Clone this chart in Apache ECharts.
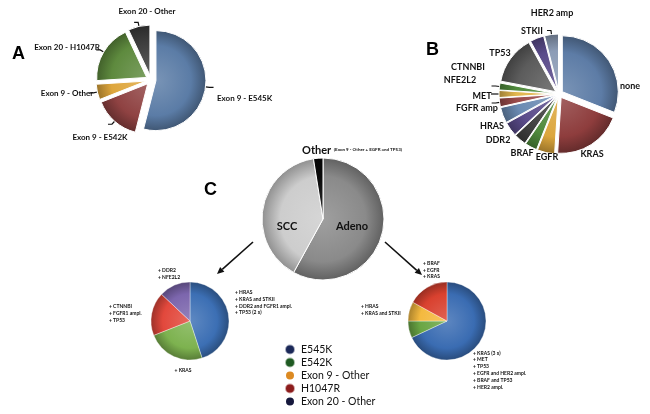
<!DOCTYPE html>
<html><head><meta charset="utf-8">
<script src="https://cdn.jsdelivr.net/npm/echarts@6/dist/echarts.min.js"></script>
<style>html,body{margin:0;padding:0;background:#fff}#c{width:650px;height:414px}</style>
</head><body><div id="c"></div>
<script>
// ---------- DATA ----------
const pieANames = ['Exon 9 - E545K','Exon 9 - E542K','Exon 9 - Other','Exon 20 - H1047R','Exon 20 - Other'];
const pieAValues = [54, 15, 5, 19, 7];
const pieBNames = ['none','KRAS','EGFR','BRAF','DDR2','HRAS','FGFR amp','MET','NFE2L2','CTNNBI','TP53','STKII','HER2 amp'];
const pieBValues = [31, 20, 5, 3.5, 3.5, 4, 4.5, 2.5, 2, 2, 14, 4, 4];
const pieCNames = ['Adeno','SCC','Other'];
const pieCValues = [58, 39.5, 2.5];
const otherNote = '(Exon 9 - Other + EGFR and TP53)';
const sccNames = ['E545K','E542K','H1047R','Exon 20 - Other'];
const sccValues = [45, 24, 18, 13];
const sccNotes = [['+ HRAS','+ KRAS and STKII','+ DDR2 and FGFR1 ampl.','+ TP53 (2 x)'],['+ KRAS'],['+ CTNNBI','+ FGFR1 ampl.','+ TP53'],['+ DDR2','+ NFE2L2']];
const adenoNames = ['E545K','E542K','Exon 9 - Other','H1047R'];
const adenoValues = [68, 7, 8, 17];
const adenoNotes = [['+ KRAS (3 x)','+ MET','+ TP53','+ EGFR and HER2 ampl.','+ BRAF and TP53','+ HER2 ampl.'],[],['+ HRAS','+ KRAS and STKII'],['+ BRAF','+ EGFR','+ KRAS']];
const legendNames = ['E545K','E542K','Exon 9 - Other','H1047R','Exon 20 - Other'];

// ---------- STYLE / LAYOUT ----------
const colorsA = ['#5b7ca6','#8f4242','#dea63c','#5e8a3e','#3c3c3c'];
const colorsB = ['#5d7ca6','#8e3d3d','#dca63c','#4f8a3c','#404040','#5a4b8a','#6a8ab2','#9a4a4a','#e2b64e','#4f8a3c','#5c5c5c','#5a4b8a','#8c9cb6'];
const colorsC = ['#8a8a8a','#cdcdcd','#080808'];
const colorsScc = ['#3c6fb4','#7db24f','#e2483c','#7c66ad'];
const colorsAdeno = ['#3a6cb2','#6aa644','#f4b93f','#d9412f'];
const legendColors = ['#1b2858','#1f5a22','#dc8a22','#8c1c1c','#16183c'];

const A = {c:[151,80], r:50, off:5};
const B = {c:[559,94], r:56, off:4};
const C = {c:[323,219], r:61, off:0};
const L = {c:[190,321], r:39, off:0};
const R = {c:[447,321], r:39, off:0};

// label anchor: [x, y(centre), 'left' | 'center']
const posA = [[217,98,'left'],[100,137,'center'],[67,93,'center'],[67,47,'center'],[147,11,'center']];
const posB = [[630,86,'center'],[592,154,'center'],[547,157,'center'],[522,153,'center'],[498,140,'center'],[492,126,'center'],[477,108,'center'],[482,96,'center'],[460,80,'center'],[468,67,'center'],[500,53,'center'],[532,31,'center'],[552,13,'center']];
const lineB = [false,false,false,false,false,false,false,true,true,true,false,false,true];
const posC = [[352,226,'center'],[287,226,'center'],[302,150,'left']];
const posL = [[235,302.5,'left'],[183,370,'center'],[109,313.5,'left'],[158,274,'left']];
const posR = [[473,370,'left'],[0,0,'left'],[361,309.5,'left'],[423,270,'left']];

function mix(hex, to, t){
  const a=parseInt(hex.slice(1),16), b=parseInt(to.slice(1),16);
  const ch=(v,s)=>(v>>s)&255;
  const m=s=>Math.round(ch(a,s)*(1-t)+ch(b,s)*t);
  return 'rgb('+m(16)+','+m(8)+','+m(0)+')';
}
function shade(hex, P, k){
  return {type:'radial', x:P.c[0], y:P.c[1], r:P.r, global:true,
    colorStops:[{offset:0,color:mix(hex,'#ffffff',0.18)},{offset:0.7,color:hex},{offset:1,color:mix(hex,'#000000',k||0.3)}]};
}
const FONT = 'Lato';
// move each label to its anchor; compensate the selected (exploded) offset that moves with the slice
function layoutFrom(pos, values, P){
  const total = values.reduce((s,v)=>s+v,0);
  let cum = 0;
  const offs = values.map(v=>{ const mid=(cum+v/2)/total*2*Math.PI; cum+=v; return [P.off*Math.sin(mid), -P.off*Math.cos(mid)]; });
  return function(p){
    const q = pos[p.dataIndex], r = p.labelRect, o = offs[p.dataIndex];
    const left = q[2]==='center' ? q[0]-r.width/2 : q[0];
    return {dx: left - r.x - o[0], dy: q[1] - (r.y + r.height/2) - o[1]};
  };
}
function arrow(x1,y1,x2,y2){
  const dx=x2-x1, dy=y2-y1, len=Math.hypot(dx,dy), ux=dx/len, uy=dy/len;
  const hl=7, hw=3.2, bx=x2-ux*hl, by=y2-uy*hl;
  return [
    {type:'line', shape:{x1:x1,y1:y1,x2:bx,y2:by}, style:{stroke:'#111', lineWidth:1.6}, silent:true},
    {type:'polygon', shape:{points:[[x2,y2],[bx-uy*hw,by+ux*hw],[bx+uy*hw,by-ux*hw]]}, style:{fill:'#111'}, silent:true}
  ];
}
const noteRich = {l:{align:'left', fontFamily:FONT, fontWeight:'bold', fontSize:5, lineHeight:6.8, color:'#111'}};
const noteFmt = notes => p => notes[p.dataIndex].map(s=>'{l|'+s+'}').join('\n');

const base = {type:'pie', avoidLabelOverlap:false, animation:false, emphasis:{disabled:true}, startAngle:90, clockwise:true};

const option = {
  backgroundColor:'#fff',
  title:[
    {text:'A', left:7, top:40, textStyle:{fontFamily:'Liberation Sans', fontWeight:'bold', fontSize:18, color:'#000'}},
    {text:'B', left:421, top:36, textStyle:{fontFamily:'Liberation Sans', fontWeight:'bold', fontSize:18, color:'#000'}},
    {text:'C', left:199, top:176, textStyle:{fontFamily:'Liberation Sans', fontWeight:'bold', fontSize:18, color:'#000'}}
  ],
  legend:{
    orient:'vertical', left:284, top:343, height:90, padding:0, itemGap:0, itemWidth:10, itemHeight:10, icon:'circle',
    selectedMode:false,
    textStyle:{fontFamily:FONT, fontSize:10.5, color:'#111', padding:[0,0,0,1], lineHeight:13},
    data: legendNames.map((n,i)=>({name:n, itemStyle:{color:legendColors[i]}}))
  },
  graphic: [].concat(arrow(253,242,217,274), arrow(385,242,422,275)),
  series:[
    Object.assign({}, base, {
      name:'A', center:A.c, radius:[0,A.r], selectedMode:'multiple', selectedOffset:A.off,
      data: pieANames.map((n,i)=>({name:n, value:pieAValues[i], selected:true,
        itemStyle:{color:shade(colorsA[i],A,0.3), borderColor:'#fff', borderWidth:1}})),
      label:{show:true, position:'outside', formatter:'{b}', fontFamily:FONT, fontWeight:'bold', fontSize:8, color:'#111'},
      labelLine:{show:true, length:4, length2:4, lineStyle:{color:'#111', width:1.2}},
      labelLayout: layoutFrom(posA, pieAValues, A)
    }),
    Object.assign({}, base, {
      name:'B', center:B.c, radius:[0,B.r], selectedMode:'multiple', selectedOffset:B.off,
      data: pieBNames.map((n,i)=>({name:n, value:pieBValues[i], selected:true,
        itemStyle:{color:shade(colorsB[i],B,0.3), borderColor:'#fff', borderWidth:1},
        labelLine:{show:lineB[i]}})),
      label:{show:true, position:'outside', formatter:'{b}', fontFamily:FONT, fontWeight:'bold', fontSize:9, color:'#111'},
      labelLine:{length:4, length2:4, lineStyle:{color:'#111', width:1.2}},
      labelLayout: layoutFrom(posB, pieBValues, B)
    }),
    Object.assign({}, base, {
      name:'C', center:C.c, radius:[0,C.r],
      data: pieCNames.map((n,i)=>({name:n, value:pieCValues[i],
        itemStyle:{color:shade(colorsC[i],C,0.3), borderColor:'#fff', borderWidth:1}})),
      label:{show:true, position:'outside', fontFamily:FONT, fontWeight:'bold', fontSize:11, color:'#111',
        formatter: p => p.name==='Other' ? '{a|Other} {b|'+otherNote+'}' : p.name,
        rich:{a:{fontFamily:FONT, fontWeight:'bold', fontSize:11, color:'#111'}, b:{fontFamily:FONT, fontWeight:'bold', fontSize:4.5, color:'#111'}}},
      labelLine:{show:false},
      labelLayout: layoutFrom(posC, pieCValues, C)
    }),
    Object.assign({}, base, {
      name:'SCC mutations', center:L.c, radius:[0,L.r],
      data: sccNames.map((n,i)=>({name:n, value:sccValues[i],
        itemStyle:{color:shade(colorsScc[i],L,0.3), borderColor:'rgba(255,255,255,0.6)', borderWidth:0.6},
        label:{show:sccNotes[i].length>0}})),
      label:{position:'outside', fontFamily:FONT, fontWeight:'bold', fontSize:5, lineHeight:6.8, color:'#111',
        formatter: noteFmt(sccNotes), rich: noteRich},
      labelLine:{show:false},
      labelLayout: layoutFrom(posL, sccValues, L)
    }),
    Object.assign({}, base, {
      name:'Adeno mutations', center:R.c, radius:[0,R.r],
      data: adenoNames.map((n,i)=>({name:n, value:adenoValues[i],
        itemStyle:{color:shade(colorsAdeno[i],R,0.3), borderColor:'rgba(255,255,255,0.6)', borderWidth:0.6},
        label:{show:adenoNotes[i].length>0}})),
      label:{position:'outside', fontFamily:FONT, fontWeight:'bold', fontSize:5, lineHeight:6.8, color:'#111',
        formatter: noteFmt(adenoNotes), rich: noteRich},
      labelLine:{show:false},
      labelLayout: layoutFrom(posR, adenoValues, R)
    })
  ]
};
const chart = echarts.init(document.getElementById('c'), null, {renderer:'canvas'});
chart.setOption(option);
</script></body></html>
